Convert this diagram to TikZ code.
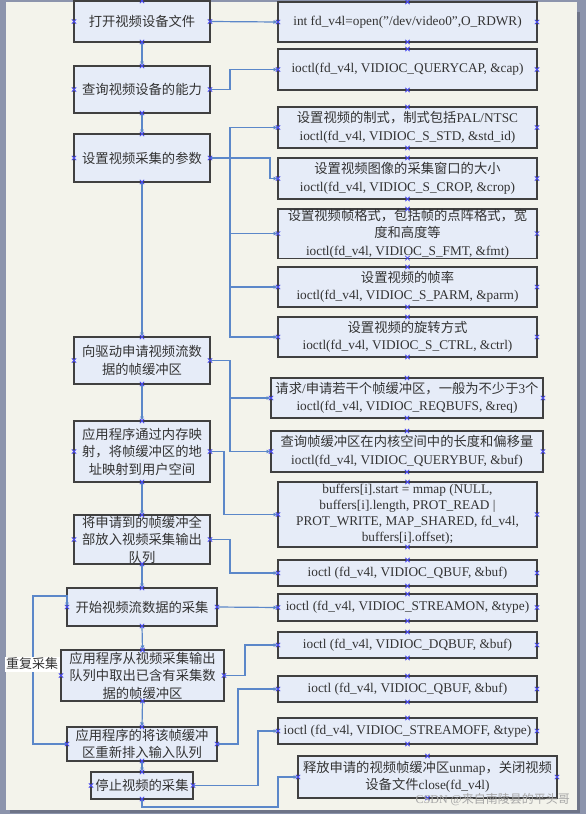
\documentclass[tikz,border=0pt]{standalone}
\usepackage{fontspec}
\setmainfont{Liberation Serif}
\newfontfamily\cjk{Noto Sans CJK SC}
\usetikzlibrary{arrows.meta,calc}
\definecolor{outer}{HTML}{8C94AC}
\definecolor{shadow}{HTML}{6E7488}
\definecolor{page}{HTML}{F3F3EB}
\definecolor{boxfill}{HTML}{E6ECF8}
\definecolor{boxline}{HTML}{404040}
\definecolor{conn}{HTML}{5B87C9}
\definecolor{crossc}{HTML}{4A4AF0}
\definecolor{txt}{HTML}{333333}
\begin{document}
\begin{tikzpicture}[x=1pt,y=-1pt,
  box/.style={draw=boxline,line width=1.2pt,fill=boxfill,inner sep=0pt,outer sep=0pt,
    align=center,anchor=north west,text=txt,font=\fontsize{13.3}{17.5}\selectfont},
  link/.style={draw=conn,line width=1.2pt,-{Latex[length=4.5pt,width=4pt]}},
  cross/.style={draw=crossc,line width=0.8pt}]
\newcommand\boxat[6]{\pgfmathsetmacro\bw{#4-#2}\pgfmathsetmacro\bh{#5-#3}%
  \node[box,minimum width=\bw pt,minimum height=\bh pt] (#1) at (#2,#3) {#6};}
\newcommand\cpx[1]{\draw[cross] ($(#1)+(-2.2,-2.2)$) -- ++(4.4,4.4) ($(#1)+(-2.2,2.2)$) -- ++(4.4,-4.4);}
\useasboundingbox (0,0) rectangle (586,814);
\fill[outer] (0,0) rectangle (586,814);
\fill[shadow] (10,12) rectangle (580,813);
\fill[page] (6,2) rectangle (577,810);
% left column
\boxat{L1}{74}{1}{210}{42}{\cjk 打开视频设备文件}
\boxat{L2}{74}{66}{210}{113}{\cjk 查询视频设备的能力}
\boxat{L3}{74}{134}{210}{182}{\cjk 设置视频采集的参数}
\boxat{L4}{74}{337}{210}{384}{\cjk 向驱动申请视频流数\\\cjk 据的帧缓冲区}
\boxat{L5}{74}{421}{210}{482}{\cjk 应用程序通过内存映\\\cjk 射，将帧缓冲区的地\\\cjk 址映射到用户空间}
\boxat{L6}{74}{515}{210}{564}{\cjk 将申请到的帧缓冲全\\\cjk 部放入视频采集输出\\\cjk 队列}
\boxat{L7}{67}{588}{217}{626}{\cjk 开始视频流数据的采集}
\boxat{L8}{61}{650}{224}{701}{\cjk 应用程序从视频采集输出\\\cjk 队列中取出已含有采集数\\\cjk 据的帧缓冲区}
\boxat{L9}{67}{727}{217}{761}{\cjk 应用程序的将该帧缓冲\\\cjk 区重新排入输入队列}
\boxat{L10}{91}{772}{193}{799}{\cjk 停止视频的采集}
% right column
\boxat{R1}{278}{2}{537}{42}{int fd\_v4l=open("/dev/video0",O\_RDWR)}
\boxat{R2}{278}{49}{537}{90}{ioctl(fd\_v4l, VIDIOC\_QUERYCAP, \&cap)}
\boxat{R3}{278}{107}{537}{148}{{\cjk 设置视频的制式，制式包括}PAL/NTSC\\ioctl(fd\_v4l, VIDIOC\_S\_STD, \&std\_id)}
\boxat{R4}{278}{158}{537}{199}{\cjk 设置视频图像的采集窗口的大小\\ioctl(fd\_v4l, VIDIOC\_S\_CROP, \&crop)}
\boxat{R5}{278}{209}{537}{256}{\cjk 设置视频帧格式，包括帧的点阵格式，宽\\\cjk 度和高度等\\ioctl(fd\_v4l, VIDIOC\_S\_FMT, \&fmt)}
\boxat{R6}{278}{267}{537}{307}{\cjk 设置视频的帧率\\ioctl(fd\_v4l, VIDIOC\_S\_PARM, \&parm)}
\boxat{R7}{278}{317}{537}{357}{\cjk 设置视频的旋转方式\\ioctl(fd\_v4l, VIDIOC\_S\_CTRL, \&ctrl)}
\boxat{R8}{271}{378}{543}{418}{{\cjk 请求}/{\cjk 申请若干个帧缓冲区，一般为不少于}3{\cjk 个}\\ioctl(fd\_v4l, VIDIOC\_REQBUFS, \&req)}
\boxat{R9}{271}{431}{543}{472}{\cjk 查询帧缓冲区在内核空间中的长度和偏移量\\ioctl(fd\_v4l, VIDIOC\_QUERYBUF, \&buf)}
\boxat{R10}{278}{482}{537}{547}{buffers[i].start = mmap (NULL,\\[-1.5pt]buffers[i].length, PROT\_READ |\\[-1.5pt]PROT\_WRITE, MAP\_SHARED, fd\_v4l,\\[-1.5pt]buffers[i].offset);}
\boxat{R11}{278}{560}{537}{586}{ioctl (fd\_v4l, VIDIOC\_QBUF, \&buf)}
\boxat{R12}{278}{594}{537}{621}{ioctl (fd\_v4l, VIDIOC\_STREAMON, \&type)}
\boxat{R13}{278}{632}{537}{658}{ioctl (fd\_v4l, VIDIOC\_DQBUF, \&buf)}
\boxat{R14}{278}{676}{537}{702}{ioctl (fd\_v4l, VIDIOC\_QBUF, \&buf)}
\boxat{R15}{278}{718}{537}{744}{ioctl (fd\_v4l, VIDIOC\_STREAMOFF, \&type)}
\boxat{R16}{298}{756}{557}{798}{{\cjk 释放申请的视频帧缓冲区}unmap{\cjk ，关闭视频}\\{\cjk 设备文件}close(fd\_v4l)}
% vertical flow
\draw[link] (L1.south) -- (L2.north);
\draw[link] (L2.south) -- (L3.north);
\draw[link] (L3.south) -- (L4.north);
\draw[link] (L4.south) -- (L5.north);
\draw[link] (L5.south) -- (L6.north);
\draw[link] (L6.south) -- (L7.north);
\draw[link] (L7.south) -- (L8.north);
\draw[link] (L8.south) -- (L9.north);
\draw[link] (L9.south) -- (L10.north);
% to the right column
\draw[link] (L1.east) -- (R1.west);
\draw[link] (L2.east) -- ++(20,0) |- (R2.west);
\draw[link] (L3.east) -- ++(20,0) |- (R3.west);
\draw[link] (L3.east) -- ++(60,0) |- (R4.west);
\draw[link] (L3.east) -- ++(20,0) |- (R5.west);
\draw[link] (L3.east) -- ++(20,0) |- (R6.west);
\draw[link] (L3.east) -- ++(20,0) |- (R7.west);
\draw[link] (L4.east) -- ++(20,0) |- (R8.west);
\draw[link] (L4.east) -- ++(20,0) |- (R9.west);
\draw[link] (L5.east) -- ++(14,0) |- (R10.west);
\draw[link] (L6.east) -- ++(20,0) |- (R11.west);
\draw[link] (L7.east) -- (R12.west);
\draw[link] (L8.east) -- ++(21,0) |- (R13.west);
\draw[link] (L9.east) -- ++(21,0) |- (R14.west);
\draw[link] (L10.east) -- ++(65,0) |- (R15.west);
\draw[link] (L10.south) -- ++(0,8) -- ++(136,0) |- (R16.west);
% repeat loop
\draw[link] (L9.west) -- ++(-34,0) |- ($(L7.north west)+(0,8)$) -- (L7.west);
\node[fill=white,inner sep=1.5pt,text=txt,font=\fontsize{13}{13}\cjk] (rep) at (32,664) {重复采集};
% connection point crosses
\foreach \n in {L1,L2,L3,L4,L5,L6,L7,L8,L9,L10,R1,R2,R3,R4,R5,R6,R7,R8,R9,R10,R11,R12,R13,R14,R15,R16}
  \foreach \a in {north,south,east,west} {\cpx{\n.\a}}
% watermark
\node[anchor=south east,inner sep=0pt,text=gray!70,font=\fontsize{12}{12}\selectfont] (wm) at (570,806) {CSDN @{\cjk 来自南陵县的平头哥}};
\end{tikzpicture}
\end{document}
